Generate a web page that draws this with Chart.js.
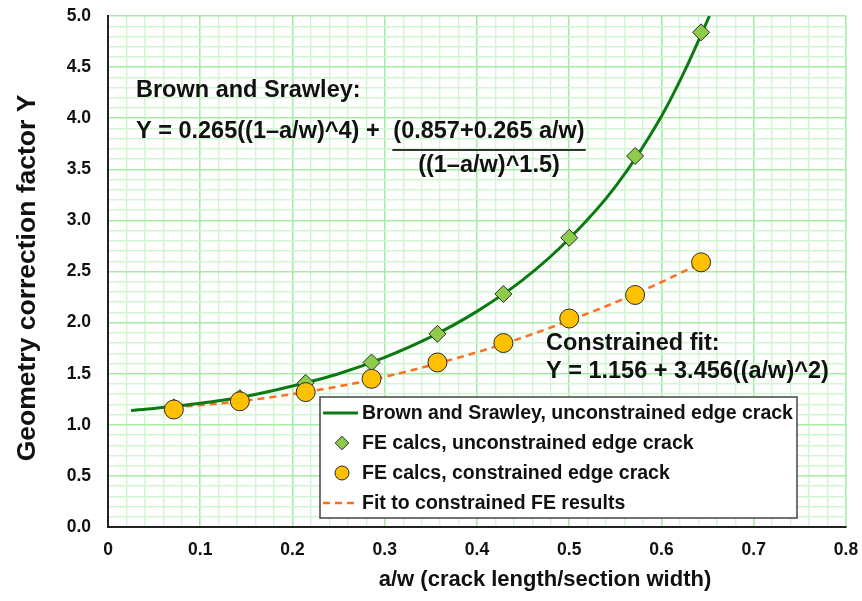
<!DOCTYPE html>
<html>
<head>
<meta charset="utf-8">
<title>Geometry correction factor</title>
<script src="https://cdn.jsdelivr.net/npm/chart.js@4/dist/chart.umd.min.js"></script>
<style>
  html, body { margin: 0; padding: 0; background: #fff; }
  #wrap { position: relative; width: 862px; height: 601px; }
</style>
</head>
<body>
<div id="wrap"><canvas id="geometryChart"></canvas></div>
<script>
// a/w of the FE models
const feRatios = [0.0714, 0.1429, 0.2143, 0.2857, 0.3571, 0.4286, 0.5, 0.5714, 0.6429];
const feUnconstrained = [1.17, 1.26, 1.41, 1.61, 1.89, 2.28, 2.83, 3.63, 4.84];
const feConstrained = [1.15, 1.23, 1.32, 1.45, 1.61, 1.80, 2.04, 2.27, 2.59];
const fitValues = [1.17, 1.23, 1.32, 1.44, 1.60, 1.79, 2.02, 2.28, 2.58];

// Brown and Srawley handbook curve
const bsRatios = [0.025, 0.05, 0.1, 0.15, 0.2, 0.25, 0.3, 0.35, 0.4, 0.45, 0.5, 0.55, 0.6, 0.625, 0.652];
const bsValues = [1.14, 1.16, 1.21, 1.28, 1.38, 1.50, 1.66, 1.86, 2.11, 2.42, 2.82, 3.33, 4.02, 4.46, 5.0];

const xTickLabels = ['0', '0.1', '0.2', '0.3', '0.4', '0.5', '0.6', '0.7', '0.8'];
const yTickLabels = ['0.0', '0.5', '1.0', '1.5', '2.0', '2.5', '3.0', '3.5', '4.0', '4.5', '5.0'];

const seriesNames = [
  'Brown and Srawley, unconstrained edge crack',
  'FE calcs, unconstrained edge crack',
  'FE calcs, constrained edge crack',
  'Fit to constrained FE results',
];

const FONT = '"Liberation Sans", Arial, sans-serif';
const INK = '#111';
const GRID_MAJOR = '#a6eca6';
const GRID_MINOR = '#d2f6d2';

const pairs = (xs, ys) => xs.map((x, i) => ({ x, y: ys[i] }));

// titles, equations and the boxed legend
const overlay = {
  id: 'overlay',
  afterDraw(chart) {
    const { ctx, chartArea: ca } = chart;

    ctx.save();
    ctx.fillStyle = INK;
    ctx.textBaseline = 'alphabetic';

    // equations
    ctx.font = `bold 23.5px ${FONT}`;
    ctx.textAlign = 'left';
    const ex = ca.left + 28;
    ctx.fillText('Brown and Srawley:', ex, 97);
    ctx.fillText('Y = 0.265((1–a/w)^4) + ', ex, 138);
    ctx.textAlign = 'center';
    const fx = 489;
    ctx.fillText('(0.857+0.265 a/w)', fx, 138);
    ctx.fillText('((1–a/w)^1.5)', fx, 172);
    const numW = ctx.measureText('(0.857+0.265 a/w)').width;
    ctx.strokeStyle = '#333';
    ctx.lineWidth = 2;
    ctx.beginPath();
    ctx.moveTo(fx - numW / 2 - 1, 150);
    ctx.lineTo(fx + numW / 2 + 1, 150);
    ctx.stroke();

    ctx.textAlign = 'left';
    ctx.fillText('Constrained fit:', 546, 350);
    ctx.fillText('Y = 1.156 + 3.456((a/w)^2)', 546, 378);

    // axis titles
    ctx.textAlign = 'center';
    ctx.textBaseline = 'middle';
    ctx.font = `bold 22px ${FONT}`;
    ctx.fillText('a/w (crack length/section width)', 545, 580);
    ctx.font = `bold 26.5px ${FONT}`;
    ctx.save();
    ctx.translate(28, 278);
    ctx.rotate(-Math.PI / 2);
    ctx.fillText('Geometry correction factor Y', 0, 0);
    ctx.restore();

    // legend box
    const bx = ca.left + 212, by = ca.bottom - 130;
    const bw = 477, bh = 121;
    ctx.fillStyle = '#fff';
    ctx.fillRect(bx, by, bw, bh);
    ctx.strokeStyle = '#444';
    ctx.lineWidth = 1.5;
    ctx.strokeRect(bx, by, bw, bh);

    ctx.font = `bold 19.5px ${FONT}`;
    ctx.textAlign = 'left';
    ctx.textBaseline = 'middle';
    const ds = chart.data.datasets;
    seriesNames.forEach((name, i) => {
      const rowY = by + 16 + i * 30;
      const d = ds[i];
      if (d.showLine === false) {
        ctx.fillStyle = d.pointBackgroundColor;
        ctx.strokeStyle = d.pointBorderColor;
        ctx.lineWidth = 1;
        Chart.helpers.drawPoint(ctx, {
          pointStyle: d.pointStyle,
          radius: d.pointStyle === 'circle' ? 7 : 6.8,
          borderWidth: 1,
        }, bx + 22, rowY);
      } else {
        ctx.strokeStyle = d.borderColor;
        ctx.lineWidth = d.borderWidth;
        ctx.setLineDash(d.borderDash || []);
        ctx.beginPath();
        ctx.moveTo(bx + 3, rowY);
        ctx.lineTo(bx + 38, rowY);
        ctx.stroke();
        ctx.setLineDash([]);
      }
      ctx.fillStyle = INK;
      ctx.fillText(name, bx + 42, rowY + 1);
    });
    ctx.restore();
  },
};

const isMajor = (value, perUnit) => Math.round(value * perUnit) % 5 === 0;

new Chart(document.getElementById('geometryChart'), {
  type: 'scatter',
  data: {
    datasets: [
      {
        label: seriesNames[0],
        data: pairs(bsRatios, bsValues),
        showLine: true,
        borderColor: '#0c7a12',
        borderWidth: 3,
        pointRadius: 0,
        cubicInterpolationMode: 'monotone',
        order: 2,
      },
      {
        label: seriesNames[1],
        data: pairs(feRatios, feUnconstrained),
        showLine: false,
        pointStyle: 'rectRot',
        pointRadius: 8.5,
        pointHoverRadius: 8.5,
        pointBackgroundColor: '#8fcb4a',
        pointBorderColor: '#2b2b2b',
        pointBorderWidth: 1,
        order: 1,
      },
      {
        label: seriesNames[2],
        data: pairs(feRatios, feConstrained),
        showLine: false,
        pointStyle: 'circle',
        pointRadius: 9.5,
        pointHoverRadius: 9.5,
        pointBackgroundColor: '#ffc000',
        pointBorderColor: '#2b2b2b',
        pointBorderWidth: 1,
        order: 0,
      },
      {
        label: seriesNames[3],
        data: pairs(feRatios, fitValues),
        showLine: true,
        borderColor: '#ff6f1f',
        borderWidth: 2.5,
        borderDash: [7, 5],
        pointRadius: 0,
        cubicInterpolationMode: 'monotone',
        order: 3,
      },
    ],
  },
  options: {
    responsive: true,
    maintainAspectRatio: false,
    animation: false,
    events: [],
    layout: { padding: { top: 16, right: 16, left: 0, bottom: 0 } },
    plugins: {
      legend: { display: false },
      tooltip: { enabled: false },
    },
    scales: {
      x: {
        type: 'linear',
        min: 0,
        max: 0.8,
        afterFit: (scale) => {
          scale.height = 74;
          scale.paddingLeft = 0;
          scale.paddingRight = 0;
        },
        ticks: {
          stepSize: 0.02,
          autoSkip: false,
          maxRotation: 0,
          padding: 13,
          color: INK,
          font: { family: FONT, size: 17.5, weight: 'bold' },
          callback: (v) => {
            const i = Math.round(v * 50);
            return i % 5 === 0 ? xTickLabels[i / 5] : '';
          },
        },
        grid: {
          drawTicks: false,
          lineWidth: (c) => (c.tick && isMajor(c.tick.value, 50) ? 1.6 : 1.4),
          color: (c) => (c.tick && isMajor(c.tick.value, 50) ? GRID_MAJOR : GRID_MINOR),
        },
        border: { color: '#222', width: 2 },
      },
      y: {
        type: 'linear',
        min: 0,
        max: 5,
        afterFit: (scale) => {
          scale.width = 108;
          scale.paddingTop = 0;
          scale.paddingBottom = 0;
        },
        ticks: {
          stepSize: 0.1,
          autoSkip: false,
          padding: 17,
          color: INK,
          font: { family: FONT, size: 17.5, weight: 'bold' },
          callback: (v) => {
            const i = Math.round(v * 10);
            return i % 5 === 0 ? yTickLabels[i / 5] : '';
          },
        },
        grid: {
          drawTicks: false,
          lineWidth: (c) => (c.tick && isMajor(c.tick.value, 10) ? 1.6 : 1.4),
          color: (c) => (c.tick && isMajor(c.tick.value, 10) ? GRID_MAJOR : GRID_MINOR),
        },
        border: { color: '#222', width: 2 },
      },
    },
  },
  plugins: [overlay],
});
</script>
</body>
</html>
